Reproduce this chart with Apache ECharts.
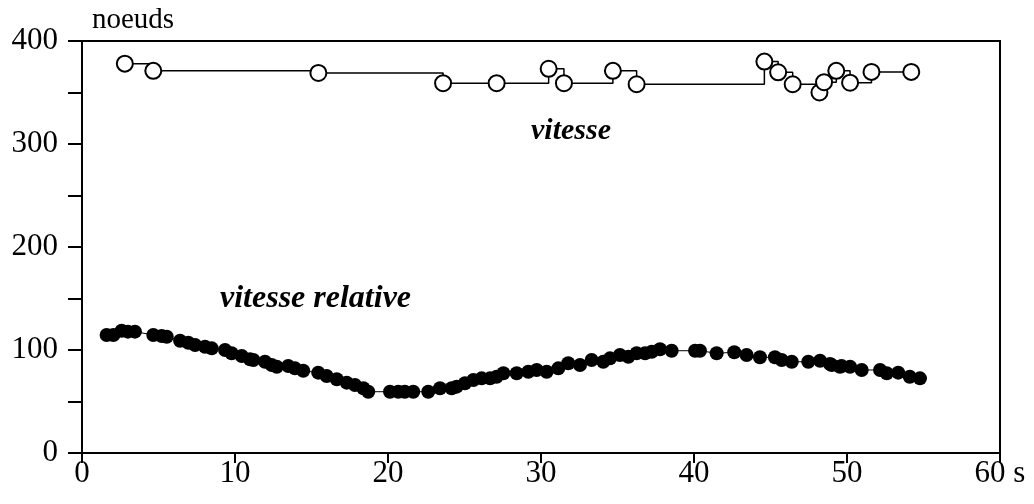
<!DOCTYPE html>
<html>
<head>
<meta charset="utf-8">
<script src="https://cdn.jsdelivr.net/npm/echarts@6/dist/echarts.min.js"></script>
<style>
  html, body { margin: 0; padding: 0; background: #fff; }
  #chart { width: 1034px; height: 504px; }
</style>
</head>
<body>
<div id="chart"></div>
<script>
// vitesse (open circles, stepped line)
let vitesseX = [2.8, 4.66, 15.45, 23.6, 27.1, 30.5, 31.5, 34.7, 36.25, 44.6, 45.5, 46.45, 48.2, 48.5, 49.3, 50.2, 51.6, 54.2]
let vitesseY = [378, 371, 369, 359, 359, 373, 359, 371, 358, 380, 369.6, 358, 350, 360, 371, 359.5, 370, 370]

// vitesse relative (filled dots)
let relX = [1.61, 2.05, 2.59, 3.0, 3.46, 4.66, 5.21, 5.54, 6.41, 6.95, 7.39, 8.04, 8.48, 9.35, 9.78, 10.44, 10.98,
    11.2, 11.96, 12.4, 12.73, 13.48, 13.92, 14.46, 15.44, 15.99, 16.65, 17.3, 17.84, 18.39, 18.71,
    20.13, 20.67, 21.1, 21.65, 22.63, 23.4, 24.16, 24.49, 25.03, 25.58, 26.12, 26.67, 27.1, 27.54, 28.41, 29.17,
    29.72, 30.37, 31.13, 31.78, 32.55, 33.31, 34.07, 34.51, 35.16, 35.71, 36.25, 36.8, 37.24, 37.78, 38.54,
    40.07, 40.39, 41.48, 42.63, 43.44, 44.31, 45.29, 45.73, 46.39, 47.47, 48.24, 48.89, 49.0, 49.54,
    49.65, 50.2, 50.96, 52.16, 52.6, 53.35, 54.1, 54.77]
let relY = [114.6, 114.6, 118.7, 117.8, 117.8, 114.6, 113.6, 112.9, 109, 107, 104.9, 103.2, 101.6, 100, 96.8, 94.2, 91,
    90.3, 88.6, 85.4, 83.8, 84.5, 82.2, 79.9, 78, 74.8, 71.6, 68.3, 66, 62.8, 59.5,
    59.5, 59.5, 59.5, 59.5, 59.5, 62.8, 62.8, 64.4, 67.7, 70.9, 72.5, 72.5, 74.1, 77.4, 77.4, 78.9,
    80.6, 78.9, 82.2, 87.1, 85.4, 90.3, 88.6, 91.9, 95.1, 93.5, 96.8, 96.8, 98.3, 100.7, 99.3,
    99.3, 99.3, 96.8, 97.8, 95.1, 92.9, 92.9, 90.3, 88.6, 88.6, 89.6, 86.4, 85.4, 83.8,
    84.5, 83.8, 80.6, 80.6, 77.4, 78, 74.1, 72.5]

let xTicks = [0, 10, 20, 30, 40, 50, 60]
let yTicks = [0, 100, 200, 300, 400]

function pairs(xs, ys) {
    let out = []
    for (let i = 0; i < xs.length; i++) {
        out.push([xs[i], ys[i]])
    }
    return out
}

let font = '"Liberation Serif", "Times New Roman", serif'
let dom = document.getElementById('chart')
let myChart = echarts.init(dom, null, { renderer: 'canvas' })

let option = {
    animation: false,
    backgroundColor: '#fff',
    grid: {
        left: 82, right: 34, top: 41, bottom: 51,
        show: true,
        borderColor: '#000',
        borderWidth: 2
    },
    xAxis: {
        type: 'value',
        min: 0, max: 60, interval: 10,
        axisLine: { lineStyle: { color: '#000', width: 2 } },
        axisTick: { inside: false, length: 10, lineStyle: { color: '#000', width: 2 } },
        splitLine: { show: false },
        axisLabel: {
            color: '#000', fontFamily: font, fontSize: 31, margin: 5,
            formatter: function (v) {
                if (xTicks.indexOf(v) < 0) return ''
                return v === 60 ? '60 s' : String(v)
            }
        }
    },
    yAxis: {
        type: 'value',
        min: 0, max: 400, interval: 50,
        axisLine: { show: true, lineStyle: { color: '#000', width: 2 } },
        axisTick: { show: true, inside: false, length: 14, lineStyle: { color: '#000', width: 2 } },
        splitLine: { show: false },
        axisLabel: {
            color: '#000', fontFamily: font, fontSize: 31, margin: 24,
            formatter: function (v) {
                return yTicks.indexOf(v) < 0 ? '' : String(v)
            }
        }
    },
    graphic: [
        { type: 'text', left: 92, top: 6, style: { text: 'noeuds', font: '29px ' + font, fill: '#000' } },
        { type: 'text', left: 531, top: 116, style: { text: 'vitesse', font: 'italic bold 30px ' + font, fill: '#000' } },
        { type: 'text', left: 220, top: 283, style: { text: 'vitesse relative', font: 'italic bold 32px ' + font, fill: '#000' } }
    ],
    series: [
        {
            name: 'vitesse relative',
            type: 'line',
            data: pairs(relX, relY),
            symbol: 'circle',
            symbolSize: 14,
            itemStyle: { color: '#000' },
            lineStyle: { color: '#000', width: 1 },
            z: 3
        },
        {
            name: 'vitesse',
            type: 'line',
            step: 'end',
            data: pairs(vitesseX, vitesseY),
            symbol: 'circle',
            symbolSize: 16,
            itemStyle: { color: '#fff', borderColor: '#000', borderWidth: 2 },
            lineStyle: { color: '#000', width: 1.5 },
            z: 4
        }
    ]
}
myChart.setOption(option)
</script>
</body>
</html>
